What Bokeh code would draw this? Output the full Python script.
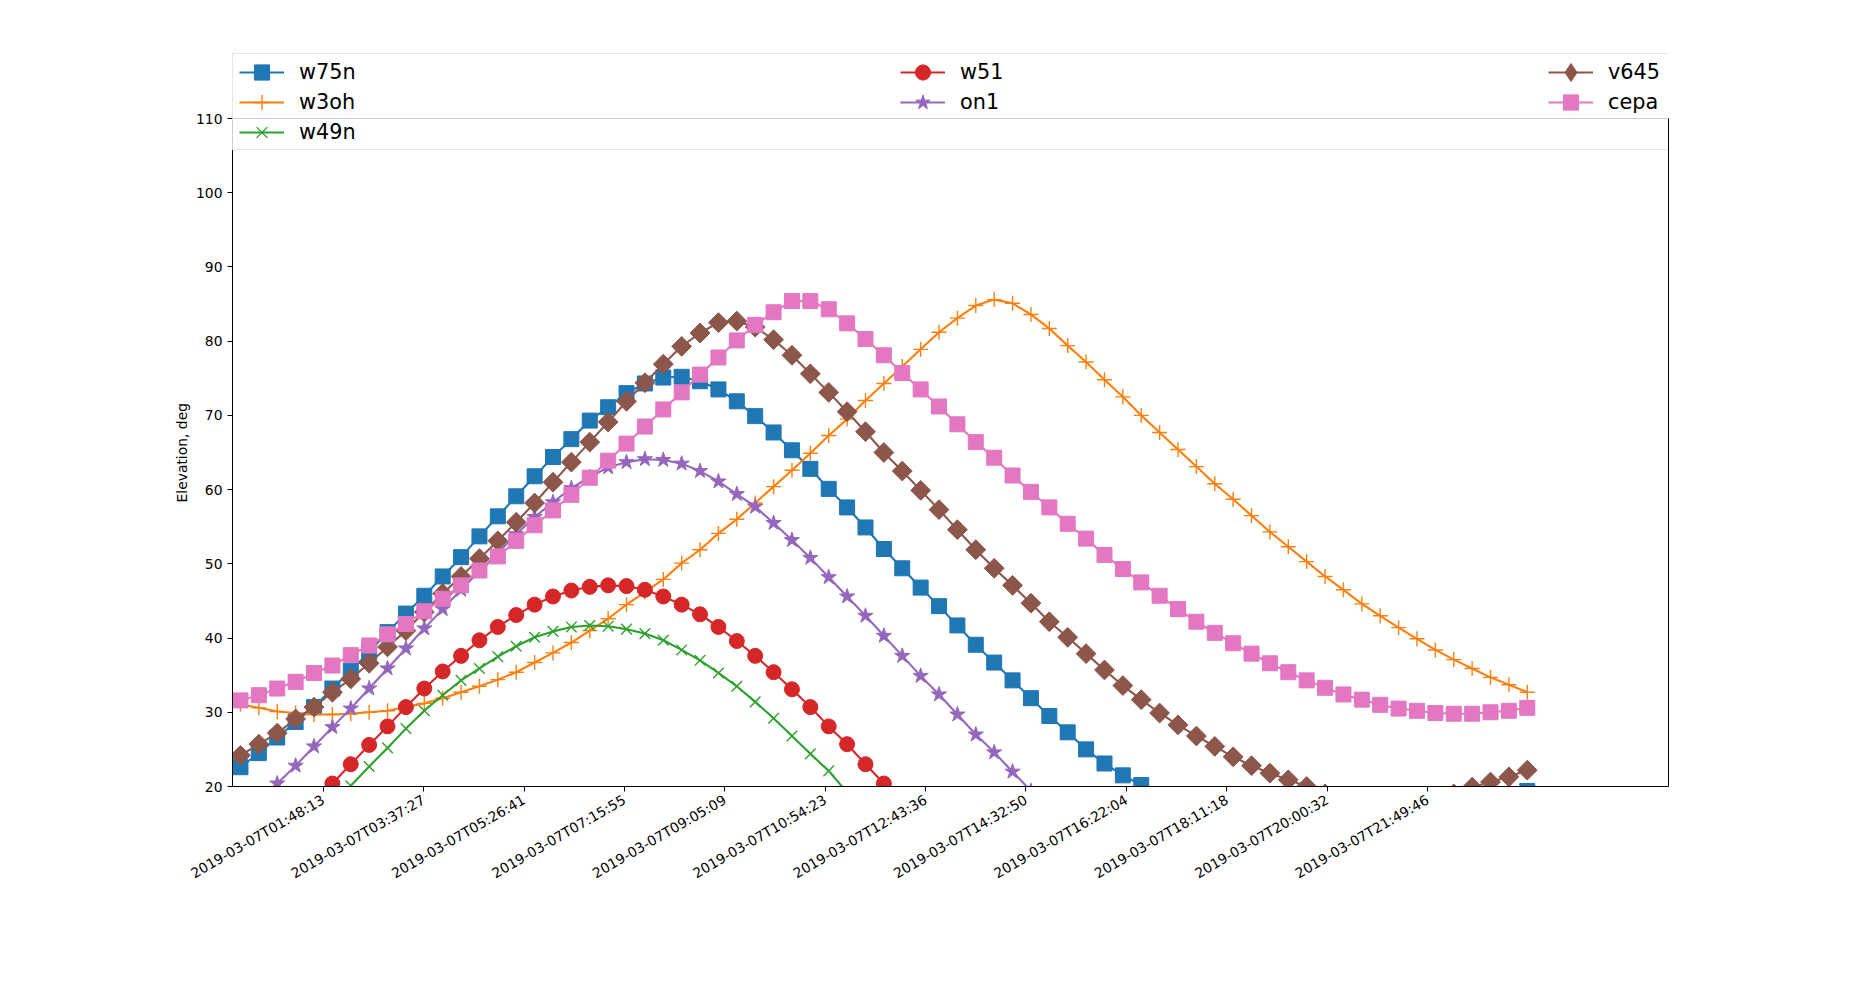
import math
from bokeh.plotting import figure
from bokeh.models import (Range1d, FixedTicker, Legend, LegendItem, LinearAxis, Span, Title)
from bokeh.embed import file_html
from bokeh.resources import INLINE

NA = float("nan")

# ---------------- data ----------------
tick_labels = [
    "2019-03-07T01:48:13", "2019-03-07T03:37:27", "2019-03-07T05:26:41",
    "2019-03-07T07:15:55", "2019-03-07T09:05:09", "2019-03-07T10:54:23",
    "2019-03-07T12:43:36", "2019-03-07T14:32:50", "2019-03-07T16:22:04",
    "2019-03-07T18:11:18", "2019-03-07T20:00:32", "2019-03-07T21:49:46",
]
y_ticks = [20, 30, 40, 50, 60, 70, 80, 90, 100, 110]
y_label = "Elevation, deg"
start_time = "2019-03-07T00:18:13"
step_minutes = 20
n_points = 71

names = ["w75n", "w3oh", "w49n", "w51", "on1", "v645", "cepa"]

w75n = [22.6, 24.5, 26.6, 28.7, 30.7, 33.2, 35.6, 38.1, 40.8, 43.3,
        45.7, 48.3, 50.9, 53.7, 56.4, 59.1, 61.8, 64.4, 66.8, 69.3,
        71.1, 73.0, 74.3, 75.1, 75.2, 74.6, 73.5, 71.9, 69.9, 67.7,
        65.3, 62.8, 60.1, 57.6, 54.9, 52.0, 49.4, 46.8, 44.3, 41.7,
        39.1, 36.7, 34.3, 31.9, 29.5, 27.3, 25.0, 23.1, 21.5, 20.2,
        18.8, NA, NA, NA, NA, NA, NA, NA, NA, NA,
        NA, NA, NA, NA, NA, NA, NA, NA, NA, 18.2,
        19.4]
w3oh = [31.1, 30.6, 30.1, 29.9, 29.7, 29.7, 29.8, 30.0, 30.2, 30.7,
        31.2, 31.9, 32.7, 33.5, 34.4, 35.4, 36.7, 38.0, 39.4, 41.0,
        42.6, 44.5, 46.2, 47.9, 50.1, 51.9, 54.1, 56.0, 58.2, 60.4,
        62.6, 64.9, 67.3, 69.5, 72.0, 74.3, 76.6, 78.9, 81.2, 83.1,
        84.8, 85.6, 85.1, 83.6, 81.7, 79.4, 77.2, 74.8, 72.5, 70.0,
        67.7, 65.4, 63.1, 60.8, 58.7, 56.5, 54.3, 52.3, 50.3, 48.3,
        46.5, 44.6, 43.0, 41.4, 39.9, 38.4, 37.1, 35.9, 34.7, 33.7,
        32.7]
w49n = [NA, NA, NA, NA, NA, 17.6, 20.1, 22.7, 25.2, 27.8,
        30.2, 32.3, 34.3, 35.9, 37.5, 38.9, 40.1, 40.9, 41.5, 41.7,
        41.6, 41.2, 40.6, 39.7, 38.4, 37.0, 35.3, 33.5, 31.4, 29.2,
        26.8, 24.4, 22.1, 19.2, NA, NA, NA, NA, NA, NA,
        NA, NA, NA, NA, NA, NA, NA, NA, NA, NA,
        NA, NA, NA, NA, NA, NA, NA, NA, NA, NA,
        NA, NA, NA, NA, NA, NA, NA, NA, NA, NA,
        NA]
w51 = [NA, NA, NA, NA, 17.9, 20.4, 23.0, 25.6, 28.1, 30.7,
       33.2, 35.5, 37.6, 39.7, 41.5, 43.1, 44.5, 45.6, 46.4, 46.9,
       47.1, 47.0, 46.5, 45.6, 44.5, 43.2, 41.5, 39.6, 37.6, 35.4,
       33.1, 30.7, 28.1, 25.7, 23.0, 20.4, 17.9, NA, NA, NA,
       NA, NA, NA, NA, NA, NA, NA, NA, NA, NA,
       NA, NA, NA, NA, NA, NA, NA, NA, NA, NA,
       NA, NA, NA, NA, NA, NA, NA, NA, NA, NA,
       NA]
on1 = [NA, 18.0, 20.4, 22.8, 25.4, 28.0, 30.5, 33.2, 35.9, 38.6,
       41.3, 43.9, 46.5, 49.0, 51.5, 54.0, 56.3, 58.3, 60.2, 61.7,
       63.0, 63.7, 64.1, 64.0, 63.5, 62.5, 61.1, 59.4, 57.7, 55.5,
       53.2, 50.8, 48.2, 45.6, 43.0, 40.3, 37.6, 34.9, 32.4, 29.7,
       27.0, 24.6, 22.0, 19.4, NA, NA, NA, NA, NA, NA,
       NA, NA, NA, NA, NA, NA, NA, NA, NA, NA,
       NA, NA, NA, NA, NA, NA, NA, NA, NA, NA,
       NA]
v645 = [24.2, 25.7, 27.2, 29.1, 30.7, 32.7, 34.5, 36.6, 38.8, 41.0,
        43.5, 46.0, 48.3, 50.7, 53.1, 55.6, 58.2, 61.0, 63.7, 66.4,
        69.1, 71.9, 74.4, 76.9, 79.3, 81.1, 82.5, 82.7, 81.9, 80.2,
        78.1, 75.6, 73.1, 70.5, 67.8, 65.0, 62.5, 59.9, 57.3, 54.6,
        51.9, 49.4, 47.1, 44.7, 42.2, 40.1, 37.9, 35.7, 33.6, 31.7,
        29.9, 28.3, 26.8, 25.4, 24.0, 22.8, 21.8, 20.9, 20.0, 19.0,
        NA, NA, NA, NA, NA, NA, 19.0, 19.9, 20.6, 21.3,
        22.2]
cepa = [31.6, 32.3, 33.2, 34.1, 35.3, 36.3, 37.7, 39.0, 40.5, 41.9,
        43.6, 45.3, 47.1, 49.1, 51.0, 53.1, 55.2, 57.2, 59.3, 61.6,
        63.9, 66.2, 68.5, 70.8, 73.1, 75.5, 77.8, 80.1, 82.2, 83.9,
        85.4, 85.4, 84.3, 82.4, 80.3, 78.1, 75.7, 73.5, 71.2, 68.8,
        66.4, 64.3, 61.9, 59.7, 57.6, 55.4, 53.4, 51.2, 49.3, 47.5,
        45.7, 43.9, 42.2, 40.7, 39.3, 37.9, 36.6, 35.4, 34.3, 33.3,
        32.4, 31.7, 31.0, 30.5, 30.2, 29.9, 29.8, 29.8, 30.0, 30.2,
        30.6]

series_values = [w75n, w3oh, w49n, w51, on1, v645, cepa]
colors = ["#1f77b4", "#ff7f0e", "#2ca02c", "#d62728", "#9467bd", "#8c564b", "#e377c2"]
markers = ["square", "cross", "x", "circle", "star", "square", "square"]
marker_angles = [0, 0, 0, 0, 0, math.pi / 4, 0]
marker_sizes = [15, 15, 15, 15, 16, 14, 15]
filled = [True, False, False, True, True, True, True]
# legend layout: column (0..2) and row (0..2) of each entry
legend_cols = [0, 0, 0, 1, 1, 2, 2]
legend_rows = [0, 1, 2, 0, 1, 0, 1]


def secs(label):
    hh, mm, ss = label.split("T")[1].split(":")
    return int(hh) * 3600 + int(mm) * 60 + int(ss)


t0 = secs(start_time)
times = [t0 + i * step_minutes * 60 for i in range(n_points)]
tick_pos = [secs(s) for s in tick_labels]

FONT = "DejaVu Sans"
Y_BOTTOM, Y_TOP = y_ticks[0], y_ticks[-1]

# The frame extends above the axes box (to y=120.5) so that the legend, which
# overlaps the top of the box, is not clipped; the box itself is drawn from spines.
p = figure(frame_width=1436, frame_height=746,
           x_range=Range1d(572, 94312), y_range=Range1d(20, 120.51),
           output_backend="svg", toolbar_location=None,
           min_border_left=232, min_border_right=169,
           min_border_top=40, min_border_bottom=180,
           background_fill_color="white", border_fill_color="white")
p.xgrid.visible = False
p.ygrid.visible = False
p.outline_line_color = None

renderers = []
for name, vals, col, mk, ang, ms, fl in zip(names, series_values, colors, markers,
                                              marker_angles, marker_sizes, filled):
    lr = p.line(times, vals, line_color=col, line_width=2.1)
    if fl:
        sr = p.scatter(times, vals, marker=mk, size=ms, angle=ang,
                       fill_color=col, line_color=col, line_width=1)
    else:
        sr = p.scatter(times, vals, marker=mk, size=ms, angle=ang,
                       line_color=col, line_width=1.4)
    renderers.append([name, [lr, sr]])

# legend-only diamond for v645 (legend glyphs are never rotated); no visible point
v_idx = names.index("v645")
diamond_leg = p.scatter([NA], [NA], marker="diamond", size=14,
                        fill_color=colors[v_idx], line_color=colors[v_idx])
renderers[v_idx][1] = [renderers[v_idx][1][0], diamond_leg]

# axes
xa = p.xaxis[0]
xa.ticker = FixedTicker(ticks=tick_pos)
xa.major_label_overrides = {t: lab for t, lab in zip(tick_pos, tick_labels)}
xa.major_label_orientation = math.pi / 6
ya = p.yaxis[0]
ya.ticker = FixedTicker(ticks=y_ticks)
ya.bounds = (Y_BOTTOM, Y_TOP)
for ax in (xa, ya):
    ax.major_label_text_font = FONT
    ax.major_label_text_font_size = "13.9px"
    ax.major_label_text_color = "black"
    ax.major_tick_out = 5
    ax.major_tick_in = 0
    ax.minor_tick_out = 0
    ax.minor_tick_in = 0
    ax.major_tick_line_color = "black"
    ax.axis_line_color = "black"
    ax.major_label_standoff = 5
xa.major_label_standoff = 7

# y label, centred on the 20..110 box rather than on the taller frame
ylab = Title(text=y_label, align="left", offset=284, standoff=6,
             text_font=FONT, text_font_size="13.9px", text_font_style="normal",
             text_color="black")
p.add_layout(ylab, "left")

# right spine
rax = LinearAxis(bounds=(Y_BOTTOM, Y_TOP), ticker=FixedTicker(ticks=[]),
                 major_tick_out=0, major_tick_in=0, minor_tick_out=0, minor_tick_in=0,
                 major_label_text_alpha=0, axis_line_color="black")
p.add_layout(rax, "right")

# top spine (underlay, so it shows through the legend background)
p.add_layout(Span(location=Y_TOP, dimension="width", line_color="black",
                  line_width=1, level="underlay"))

# legend frame: one empty item sized to the full box
box_src = p.line([NA], [NA], line_alpha=0)
box = Legend(items=[LegendItem(label="", renderers=[box_src])], location=(0, 636),
             glyph_width=20, glyph_height=95, label_height=95, label_width=1416,
             label_standoff=0, padding=0, spacing=0, margin=0,
             border_line_color="#cccccc", border_line_width=1,
             background_fill_color="white", background_fill_alpha=0.8)
p.add_layout(box, "center")

# one small legend per entry so that rows can be 30 px apart with large glyphs
col_x = [7, 668, 1316]
row_cy = [72, 102, 132]
for i, (name, rs) in enumerate(renderers):
    gh = 50 if i == v_idx else 38
    cy = row_cy[legend_rows[i]]
    lg = Legend(items=[LegendItem(label=name, renderers=rs)],
                location=(col_x[legend_cols[i]], 786 - cy - gh // 2),
                orientation="vertical",
                glyph_width=45, glyph_height=gh, label_height=gh,
                label_width=40, label_standoff=15,
                padding=0, spacing=0, margin=0,
                label_text_font=FONT, label_text_font_size="20.8px",
                label_text_color="black",
                border_line_color=None, background_fill_alpha=0.0)
    p.add_layout(lg, "center")

open("out.html", "w").write(file_html(p, INLINE))
